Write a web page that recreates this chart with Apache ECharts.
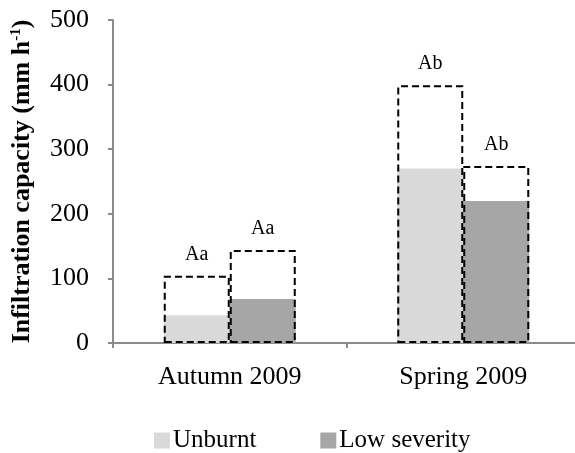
<!DOCTYPE html>
<html>
<head>
<meta charset="utf-8">
<script src="https://cdn.jsdelivr.net/npm/echarts@6/dist/echarts.min.js"></script>
<style>html,body{margin:0;padding:0;background:#fff}#c{width:575px;height:453px}</style>
</head>
<body>
<div id="c"></div>
<script>
var categories = ['Autumn 2009', 'Spring 2009'];
var unburnt = [43, 270];
var lowSeverity = [68, 220];
var unburntUpper = [104, 399];
var lowSeverityUpper = [144, 274];
var unburntLetters = ['Aa', 'Ab'];
var lowSeverityLetters = ['Aa', 'Ab'];
var yTicks = { min: 0, max: 500, interval: 100 };

var FONT = '"Liberation Serif", "Times New Roman", serif';
var chart = echarts.init(document.getElementById('c'), null, { renderer: 'canvas' });

function dashedSeries(name, values, letters) {
  return {
    name: name,
    type: 'bar',
    xAxisIndex: 1,
    barWidth: 66,
    barGap: 0,
    silent: true,
    z: 5,
    data: values,
    itemStyle: { color: 'rgba(0,0,0,0)', borderColor: '#000', borderWidth: 2, borderType: [7, 4] },
    label: {
      show: true, position: 'top', distance: 11,
      formatter: function (p) { return letters[p.dataIndex]; },
      fontFamily: FONT, fontSize: 20, color: '#000'
    }
  };
}

chart.setOption({
  animation: false,
  textStyle: { fontFamily: FONT },
  grid: { left: 113, right: -5, top: 20, bottom: 110, containLabel: false, outerBoundsMode: 'none' },
  legend: {
    data: ['Unburnt', 'Low severity'],
    left: 149, top: 423,
    itemWidth: 16, itemHeight: 16, itemGap: 64,
    icon: 'rect',
    textStyle: { fontFamily: FONT, fontSize: 25, color: '#000', padding: [0, 0, 0, -2] }
  },
  xAxis: [{
    type: 'category',
    data: categories,
    axisLine: { lineStyle: { color: '#8c8c8c', width: 2 } },
    axisTick: { show: true, length: 5, lineStyle: { color: '#8c8c8c', width: 2 } },
    axisLabel: { fontFamily: FONT, fontSize: 26, color: '#000', margin: 21 }
  }, {
    type: 'category',
    data: categories,
    show: false
  }],
  yAxis: {
    type: 'value',
    min: yTicks.min, max: yTicks.max, interval: yTicks.interval,
    name: 'Infiltration capacity (mm h{sup|-1})',
    nameLocation: 'middle',
    nameGap: 78,
    nameRotate: 90,
    nameTextStyle: {
      fontFamily: FONT, fontSize: 26, fontWeight: 'bold', color: '#000',
      rich: { sup: { fontFamily: FONT, fontSize: 15, fontWeight: 'bold', verticalAlign: 'top', padding: [0, 0, 10, 0] } }
    },
    splitLine: { show: false },
    axisLine: { show: true, lineStyle: { color: '#8c8c8c', width: 2 } },
    axisTick: { show: true, length: 5, lineStyle: { color: '#8c8c8c', width: 2 } },
    axisLabel: { fontFamily: FONT, fontSize: 26, color: '#000', margin: 24 }
  },
  series: [{
    name: 'Unburnt', type: 'bar', barWidth: 66, barGap: 0,
    data: unburnt, itemStyle: { color: '#d9d9d9' }
  }, {
    name: 'Low severity', type: 'bar', barWidth: 66, barGap: 0,
    data: lowSeverity, itemStyle: { color: '#a6a6a6' }
  },
  dashedSeries('Unburnt range', unburntUpper, unburntLetters),
  dashedSeries('Low severity range', lowSeverityUpper, lowSeverityLetters)
  ]
});
</script>
</body>
</html>
